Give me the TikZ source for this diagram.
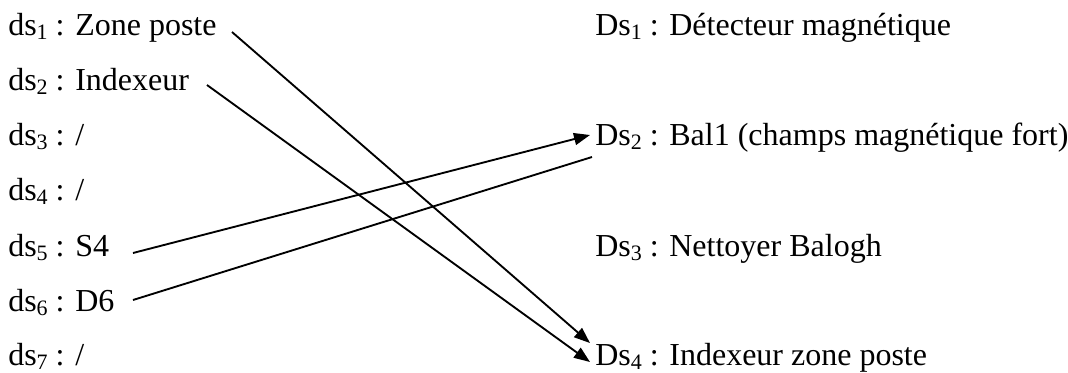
\documentclass[tikz,border=0pt]{standalone}
\usepackage{fontspec}
\setmainfont{Liberation Serif}
\usetikzlibrary{arrows.meta,positioning}
\newcommand{\idx}[1]{\raisebox{-0.13em}{\fontsize{16.5}{17}\selectfont #1}}

\begin{document}
\begin{tikzpicture}[
    x=0.75pt, y=-0.75pt,
    font=\fontsize{24}{28}\selectfont,
    item/.style={anchor=base west, inner sep=0pt},
    arrow/.style={-{Triangle[length=12pt,width=9pt]}, line width=1.4pt},
    link/.style={line width=1.4pt}
]
\useasboundingbox (0,0) rectangle (1068,372);

% left column
\node[item] (ds1) at (8,35) {ds\idx{1} : Zone poste};
\node[item] (ds2) at (8,90) {ds\idx{2} : Indexeur};
\node[item] (ds3) at (8,145) {ds\idx{3} : /};
\node[item] (ds4) at (8,200) {ds\idx{4} : /};
\node[item] (ds5) at (8,256) {ds\idx{5} : S4};
\node[item] (ds6) at (8,311) {ds\idx{6} : D6};
\node[item] (ds7) at (8,365) {ds\idx{7} : /};

% right column
\node[item] (Ds1) at (595,35) {Ds\idx{1} : Détecteur magnétique};
\node[item] (Ds2) at (595,145) {Ds\idx{2} : Bal1 (champs magnétique fort)};
\node[item] (Ds3) at (595,256) {Ds\idx{3} : Nettoyer Balogh};
\node[item] (Ds4) at (595,365) {Ds\idx{4} : Indexeur zone poste};

% line ends
\coordinate (s1) at (232,32);
\coordinate (s2) at (207,85);
\coordinate (s5) at (133,253);
\coordinate (s6) at (133,300);
\coordinate (t1) at (590,343);
\coordinate (t2) at (590,362);
\coordinate (t5) at (590,135);
\coordinate (t6) at (592,157);

\draw[arrow] (s1) -- (t1);
\draw[arrow] (s2) -- (t2);
\draw[arrow] (s5) -- (t5);
\draw[link] (s6) -- (t6);
\end{tikzpicture}
\end{document}
